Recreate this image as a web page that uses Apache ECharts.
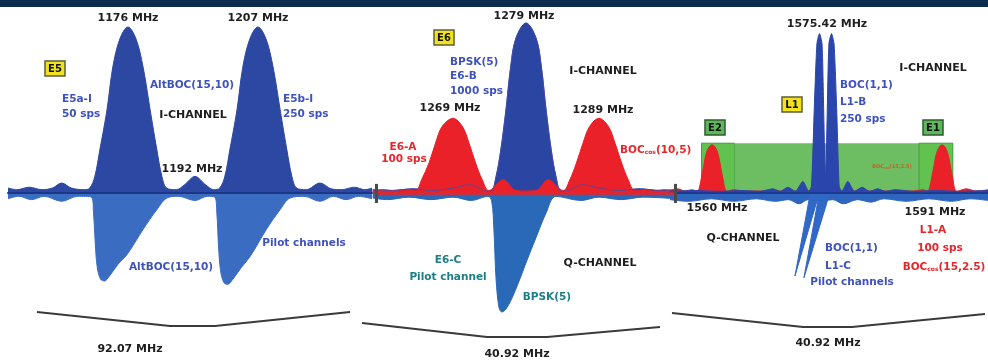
<!DOCTYPE html>
<html>
<head>
<meta charset="utf-8">
<script src="https://cdn.jsdelivr.net/npm/echarts@6/dist/echarts.min.js"></script>
<style>
    html, body {margin: 0; padding: 0; background: #fff;}
    #chart {width: 988px; height: 361px;}
</style>
</head>
<body>
<div id="chart"></div>
<script>
    // spectra: [frequency MHz, relative amplitude], I-channel up, Q-channel down
    const e5I = [
        [1147.4, 0.03], [1149.5, 0.02], [1152.5, 0.035], [1155.5, 0.02], [1158.0, 0.03], [1160.2, 0.06],
        [1162.5, 0.03], [1165.5, 0.02], [1166.9, 0.03], [1168.1, 0.1], [1169.3, 0.26], [1171.0, 0.5],
        [1172.4, 0.76], [1174.1, 0.93], [1176.0, 1.0], [1177.9, 0.93], [1179.6, 0.76], [1181.3, 0.5],
        [1182.9, 0.26], [1184.1, 0.1], [1185.2, 0.03], [1187.5, 0.02], [1189.5, 0.05], [1192.0, 0.1],
        [1194.5, 0.05], [1196.5, 0.02], [1197.9, 0.03], [1199.1, 0.1], [1200.3, 0.26], [1202.0, 0.5],
        [1203.4, 0.76], [1205.1, 0.93], [1207.0, 1.0], [1208.9, 0.93], [1210.6, 0.76], [1212.3, 0.5],
        [1213.9, 0.26], [1215.1, 0.1], [1216.2, 0.03], [1218.5, 0.02], [1221.8, 0.06], [1224.5, 0.025],
        [1227.0, 0.02], [1230.0, 0.035], [1232.5, 0.02], [1234.2, 0.03]
    ];
    const e5Q = [
        [1147.4, -0.035], [1150.0, -0.02], [1153.0, -0.04], [1156.0, -0.02], [1160.2, -0.05], [1164.0, -0.02],
        [1167.3, -0.025], [1167.8, -0.12], [1168.2, -0.3], [1168.7, -0.45], [1169.5, -0.52], [1170.4, -0.53],
        [1171.6, -0.5], [1173.6, -0.43], [1175.8, -0.37], [1179.6, -0.22], [1182.9, -0.1], [1185.3, -0.03],
        [1188.0, -0.02], [1192.0, -0.045], [1195.0, -0.02], [1196.7, -0.025], [1197.2, -0.12], [1197.6, -0.32],
        [1198.1, -0.47], [1198.9, -0.54], [1199.8, -0.55], [1201.0, -0.52], [1203.0, -0.45], [1205.2, -0.38],
        [1209.0, -0.22], [1212.3, -0.1], [1214.7, -0.03], [1218.0, -0.02], [1221.8, -0.05], [1225.0, -0.02],
        [1228.0, -0.04], [1231.0, -0.02], [1234.2, -0.035]
    ];
    const e6B = [
        [1258.0, 0.02], [1260.5, 0.015], [1263.5, 0.025], [1266.2, 0.015], [1269.0, 0.03], [1271.3, 0.05],
        [1273.3, 0.015], [1274.2, 0.01], [1274.9, 0.1], [1275.55, 0.26], [1276.25, 0.5], [1276.9, 0.76],
        [1277.6, 0.93], [1279.0, 1.024], [1280.4, 0.93], [1281.1, 0.76], [1281.75, 0.5], [1282.45, 0.26],
        [1283.1, 0.1], [1283.8, 0.01], [1284.7, 0.015], [1286.7, 0.05], [1289.0, 0.03], [1291.8, 0.015],
        [1294.5, 0.025], [1297.5, 0.015], [1299.7, 0.02]
    ];
    const e6A = [
        [1258.0, 0.012], [1259.5, 0.02], [1261.5, 0.012], [1262.8, 0.02], [1263.9, 0.015], [1264.7, 0.08],
        [1265.7, 0.18], [1266.6, 0.3], [1267.5, 0.4], [1269.0, 0.45], [1270.3, 0.4], [1271.2, 0.3],
        [1272.1, 0.18], [1273.0, 0.08], [1273.9, 0.015], [1275.9, 0.08], [1277.6, 0.015], [1279.0, 0.012],
        [1280.4, 0.015], [1282.0, 0.08], [1284.1, 0.015], [1285.0, 0.08], [1285.9, 0.18], [1286.8, 0.3],
        [1287.7, 0.4], [1289.0, 0.45], [1290.3, 0.4], [1291.2, 0.3], [1292.1, 0.18], [1293.0, 0.08],
        [1293.9, 0.015], [1295.2, 0.02], [1296.5, 0.012], [1297.8, 0.02], [1299.7, 0.012]
    ];
    const e6C = [
        [1258.0, -0.03], [1260.0, -0.04], [1263.0, -0.025], [1266.0, -0.04], [1269.0, -0.025], [1271.5, -0.045],
        [1273.8, -0.02], [1274.3, -0.05], [1274.6, -0.22], [1274.9, -0.52], [1275.3, -0.69], [1275.7, -0.717],
        [1276.4, -0.69], [1277.6, -0.58], [1279.0, -0.42], [1280.4, -0.265], [1281.75, -0.12], [1283.1, -0.02],
        [1286.5, -0.045], [1289.0, -0.025], [1292.0, -0.04], [1295.0, -0.025], [1299.7, -0.035]
    ];
    const l1B = [
        [1554.5, 0.01], [1558.0, 0.015], [1561.0, 0.01], [1564.0, 0.015], [1566.5, 0.01], [1568.2, 0.025],
        [1569.2, 0.01], [1570.2, 0.035], [1571.2, 0.01], [1572.2, 0.07], [1573.0, 0.01], [1573.35, 0.04],
        [1573.72, 0.5], [1574.08, 0.9], [1574.42, 0.96], [1574.76, 0.9], [1574.98, 0.5], [1575.12, 0.2],
        [1575.22, 0.1], [1575.32, 0.2], [1575.46, 0.5], [1575.68, 0.9], [1576.02, 0.96], [1576.36, 0.9],
        [1576.72, 0.5], [1577.05, 0.04], [1577.4, 0.01], [1578.2, 0.07], [1579.1, 0.01], [1580.1, 0.035],
        [1581.1, 0.01], [1582.2, 0.025], [1583.2, 0.01], [1584.5, 0.02], [1587.0, 0.01], [1590.0, 0.015],
        [1593.0, 0.01], [1596.9, 0.015]
    ];
    const l1A = [
        [1554.5, 0.012], [1555.5, 0.025], [1556.5, 0.012], [1557.4, 0.02], [1558.1, 0.01], [1558.7, 0.096],
        [1559.2, 0.217], [1559.6, 0.27], [1560.09, 0.29], [1560.6, 0.27], [1561.0, 0.217], [1561.5, 0.096],
        [1562.1, 0.01], [1563.0, 0.02], [1564.5, 0.012], [1587.0, 0.012], [1588.2, 0.02], [1588.8, 0.01],
        [1589.4, 0.096], [1589.9, 0.217], [1590.3, 0.27], [1590.77, 0.29], [1591.25, 0.27], [1591.65, 0.217],
        [1592.15, 0.096], [1592.75, 0.01], [1594.0, 0.025], [1595.3, 0.012], [1596.9, 0.02]
    ];
    const l1C = [
        [1554.5, -0.04], [1557.0, -0.05], [1560.0, -0.035], [1563.0, -0.05], [1566.0, -0.035], [1568.5, -0.05],
        [1570.3, -0.04], [1571.7, -0.065], [1572.9, -0.04], [1573.8, -0.045], [1575.0, -0.045], [1576.2, -0.04],
        [1577.6, -0.065], [1579.5, -0.04], [1581.3, -0.055], [1583.0, -0.035], [1586.0, -0.05], [1589.0, -0.035],
        [1592.0, -0.05], [1594.5, -0.035], [1596.9, -0.045]
    ];
    // the two L1-C pilot lobes, drawn slanted in the picture
    const l1CSpikes = [
        [1573.2, 0], [1571.15, -0.5], [1574.4, 0], [1574.55, 0], [1572.35, -0.51], [1575.8, 0]
    ];
    // band limits, MHz
    const e6Edges = [1258.54, 1299.46];
    const e2Band = [1558.7, 1563.1];
    const l1Band = [1563.1, 1587.7];
    const e1Band = [1587.7, 1592.2];
    const bandTop = 0.3;

    const xRanges = [[1147.4, 1234.2], [1258.04, 1299.68], [1554.49, 1596.89]];

    const font = '"DejaVu Sans", sans-serif';
    const BLACK = '#1e1e1e', BLUE = '#3d52bd', RED = '#e8262a', TEAL = '#1d7c84';

    function txt(x, y, text, color, size, align) {
        return {
            type: 'text', x: x, y: y, silent: true, z: 100,
            style: {
                text: text, fill: color, fontFamily: font, fontWeight: 'bold', fontSize: size || 10,
                textAlign: align || 'center', align: align || 'center',
                textVerticalAlign: 'middle', verticalAlign: 'middle'
            }
        };
    }

    function boc(x, y, args, color, size, align) {
        const t = txt(x, y, '{n|BOC}{s|cos}{n|' + args + '}', color, size, align);
        t.style.rich = {
            n: {fontSize: size, fontWeight: 'bold', fontFamily: font, fill: color, color: color},
            s: {fontSize: Math.round(size * 0.6), fontWeight: 'bold', fontFamily: font, fill: color, color: color,
                verticalAlign: 'bottom'}
        };
        return t;
    }

    function tag(x, y, text, fill, stroke) {
        return {
            type: 'group', x: x, y: y, z: 100, silent: true,
            children: [
                {type: 'rect', shape: {x: 0, y: 0, width: 20, height: 15},
                    style: {fill: fill, stroke: stroke, lineWidth: 1.5}},
                {type: 'text', x: 10, y: 8,
                    style: {text: text, fill: '#111', fontFamily: font, fontWeight: 'bold', fontSize: 10,
                        textAlign: 'center', align: 'center', textVerticalAlign: 'middle', verticalAlign: 'middle'}}
            ]
        };
    }

    function brace(points) {
        return {type: 'polyline', z: 100, silent: true, shape: {points: points},
            style: {stroke: '#3a3a3a', lineWidth: 2, fill: null}};
    }

    const chart = echarts.init(document.getElementById('chart'), null, {renderer: 'canvas'});

    const grids = [
        {left: 8, top: 10.4, width: 364, height: 348.6},
        {left: 373, top: 10.4, width: 304, height: 348.6},
        {left: 670, top: 10.4, width: 318, height: 348.6}
    ];

    const baseColor = ['#1c3786', null, '#1d3a90'];

    const area = (name, idx, data, color, z, extra) => Object.assign({
        name: name, type: 'line', xAxisIndex: idx, yAxisIndex: idx, data: data,
        smooth: 0.35, showSymbol: false, symbol: 'none', silent: true, z: z,
        lineStyle: {width: 1, color: color}, itemStyle: {color: color},
        areaStyle: {color: color, opacity: 1}
    }, extra || {});

    const S = 10.5;

    chart.setOption({
        animation: false,
        backgroundColor: '#fff',
        grid: grids,
        xAxis: xRanges.map((r, i) => ({
            type: 'value', gridIndex: i, min: r[0], max: r[1], z: 10,
            axisLine: {show: !!baseColor[i], onZero: true, lineStyle: {color: baseColor[i] || '#000', width: 2}},
            axisTick: {show: false}, axisLabel: {show: false}, splitLine: {show: false}
        })),
        yAxis: [0, 1, 2].map(i => ({type: 'value', gridIndex: i, min: -1, max: 1.1, show: false})),
        series: [
            area('E5 Q', 0, e5Q, '#3a6cc2', 2),
            area('E5 I', 0, e5I, '#2c48a2', 3),

            area('E6-C', 1, e6C, '#2a68b8', 2),
            area('E6-B', 1, e6B, '#2b45a2', 3),
            area('E6-A', 1, e6A, '#ea2128', 4, {
                markLine: {
                    silent: true, symbol: ['none', 'none'], label: {show: false}, z: 12,
                    data: [
                        [{coord: [e6Edges[0], 0], lineStyle: {color: '#e3262c', width: 2.5, type: 'solid'}},
                            {coord: [e6Edges[1], 0]}],
                        [{coord: [e6Edges[0], -0.06], lineStyle: {color: '#4a4a4a', width: 3, type: 'solid'}},
                            {coord: [e6Edges[0], 0.055]}],
                        [{coord: [e6Edges[1], -0.06], lineStyle: {color: '#4a4a4a', width: 3, type: 'solid'}},
                            {coord: [e6Edges[1], 0.055]}]
                    ]
                }
            }),
            {
                name: 'E6-B outline', type: 'line', xAxisIndex: 1, yAxisIndex: 1, data: e6B, smooth: 0.35,
                showSymbol: false, symbol: 'none', silent: true, z: 5,
                lineStyle: {width: 1, color: '#4a4aa8', opacity: 0.8}
            },

            {
                name: 'E2-L1-E1', type: 'line', xAxisIndex: 2, yAxisIndex: 2, data: [], z: 1, silent: true,
                markArea: {
                    silent: true,
                    data: [
                        [{xAxis: e2Band[0], yAxis: 0, itemStyle: {color: '#62c24f', borderColor: '#43993f', borderWidth: 1}},
                            {xAxis: e2Band[1], yAxis: bandTop}],
                        [{xAxis: l1Band[0], yAxis: 0, itemStyle: {color: '#6dbd62', borderWidth: 0}},
                            {xAxis: l1Band[1], yAxis: bandTop}],
                        [{xAxis: e1Band[0], yAxis: 0, itemStyle: {color: '#62c24f', borderColor: '#43993f', borderWidth: 1}},
                            {xAxis: e1Band[1], yAxis: bandTop}]
                    ]
                }
            },
            area('L1-A', 2, l1A, '#ea2128', 3),
            area('L1-B', 2, l1B, '#2a46ac', 4, {smooth: 0.2}),
            area('L1-C', 2, l1C, '#2e66bf', 4),
            area('L1-C pilot', 2, l1CSpikes, '#2f68c6', 4, {smooth: false})
        ],
        graphic: [
            {type: 'rect', silent: true, z: 100, shape: {x: 0, y: 0, width: 988, height: 7}, style: {fill: '#0d2c4e'}},

            // E5
            txt(128, 18, '1176 MHz', BLACK, 11),
            txt(258, 18, '1207 MHz', BLACK, 11),
            tag(45, 61, 'E5', '#f2e21e', '#5d5d3a'),
            txt(192, 85, 'AltBOC(15,10)', BLUE, S),
            txt(62, 99, 'E5a-I', BLUE, S, 'left'),
            txt(62, 114, '50 sps', BLUE, S, 'left'),
            txt(193, 115, 'I-CHANNEL', BLACK, 11),
            txt(283, 99, 'E5b-I', BLUE, S, 'left'),
            txt(283, 114, '250 sps', BLUE, S, 'left'),
            txt(192, 169, '1192 MHz', BLACK, 11),
            txt(171, 267, 'AltBOC(15,10)', BLUE, S),
            txt(304, 243, 'Pilot channels', BLUE, S),
            brace([[37, 312], [170, 326], [215, 326], [350, 312]]),
            txt(130, 349, '92.07 MHz', BLACK, 11),

            // E6
            txt(524, 16, '1279 MHz', BLACK, 11),
            tag(434, 30, 'E6', '#f2e21e', '#5d5d3a'),
            txt(450, 62, 'BPSK(5)', BLUE, S, 'left'),
            txt(450, 76, 'E6-B', BLUE, S, 'left'),
            txt(450, 91, '1000 sps', BLUE, S, 'left'),
            txt(603, 71, 'I-CHANNEL', BLACK, 11),
            txt(450, 108, '1269 MHz', BLACK, 11),
            txt(603, 110, '1289 MHz', BLACK, 11),
            txt(403, 147, 'E6-A', RED, S),
            txt(404, 159, '100 sps', RED, S),
            boc(620, 150, '(10,5)', RED, S, 'left'),
            txt(448, 260, 'E6-C', TEAL, S),
            txt(448, 277, 'Pilot channel', TEAL, S),
            txt(600, 263, 'Q-CHANNEL', BLACK, 11),
            txt(547, 297, 'BPSK(5)', TEAL, S),
            brace([[362, 323], [487, 337], [547, 337], [660, 327]]),
            txt(517, 354, '40.92 MHz', BLACK, 11),

            // L1
            txt(827, 24, '1575.42 MHz', BLACK, 11),
            txt(933, 68, 'I-CHANNEL', BLACK, 11),
            txt(840, 85, 'BOC(1,1)', BLUE, S, 'left'),
            txt(840, 102, 'L1-B', BLUE, S, 'left'),
            txt(840, 119, '250 sps', BLUE, S, 'left'),
            tag(782, 97, 'L1', '#f2e21e', '#5d5d3a'),
            tag(705, 120, 'E2', '#5cb85a', '#2f5a2f'),
            tag(923, 120, 'E1', '#5cb85a', '#2f5a2f'),
            boc(892, 167, '(15,2.5)', '#c8601e', 5),
            txt(717, 208, '1560 MHz', BLACK, 11),
            txt(935, 212, '1591 MHz', BLACK, 11),
            txt(743, 238, 'Q-CHANNEL', BLACK, 11),
            txt(825, 248, 'BOC(1,1)', BLUE, S, 'left'),
            txt(825, 266, 'L1-C', BLUE, S, 'left'),
            txt(852, 282, 'Pilot channels', BLUE, S),
            txt(933, 230, 'L1-A', RED, S),
            txt(940, 248, '100 sps', RED, S),
            boc(944, 267, '(15,2.5)', RED, S),
            brace([[672, 313], [803, 327], [852, 327], [985, 314]]),
            txt(828, 343, '40.92 MHz', BLACK, 11)
        ]
    });
</script>
</body>
</html>
